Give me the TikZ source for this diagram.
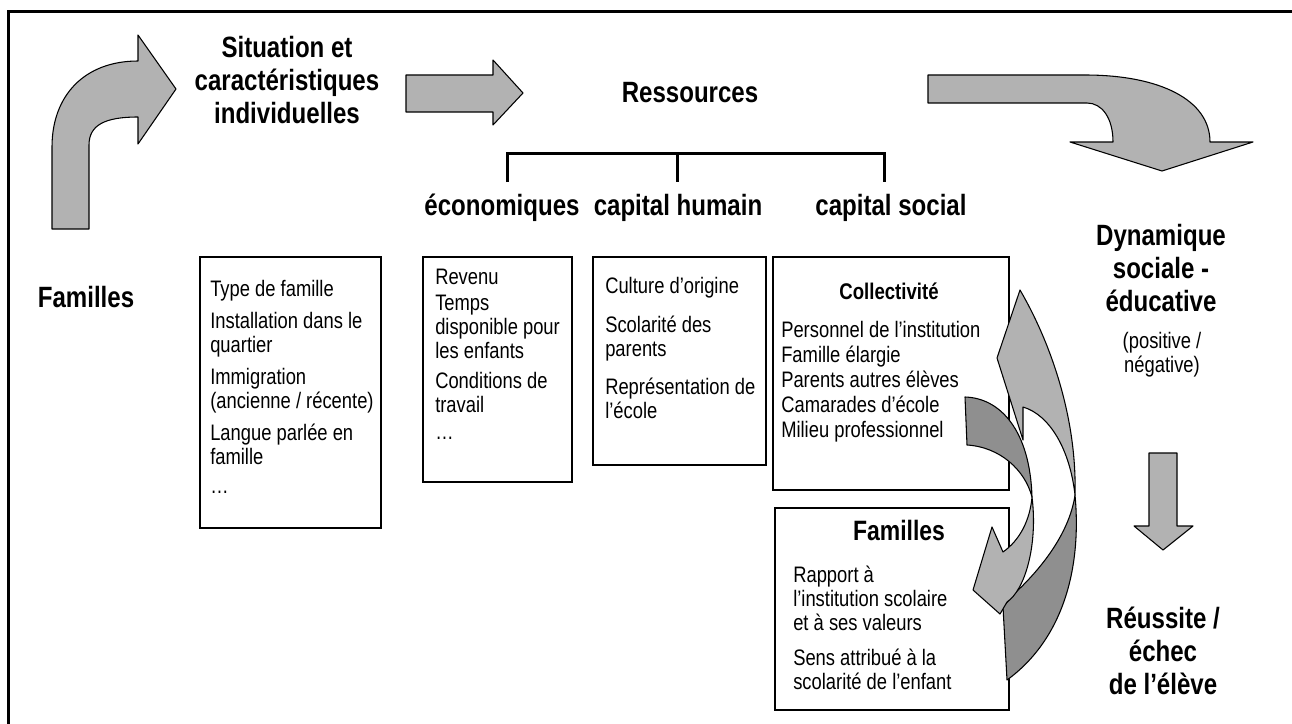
\documentclass[tikz,border=0pt]{standalone}
\usepackage{fontspec}
\setmainfont{Liberation Sans}[FakeStretch=0.82]
\usepackage{xcolor}
\usetikzlibrary{calc, shapes.geometric, arrows, positioning, fit}
\definecolor{arrowlight}{gray}{0.70}
\definecolor{arrowdark}{gray}{0.56}
\tikzset{
    box/.style={draw=black, line width=1pt, inner sep=0pt},
    items/.style={anchor=north west, inner sep=0pt, align=left, font=\fontsize{16.8}{18}\selectfont},
    heading/.style={inner sep=0pt, align=center, font=\fontsize{22}{24.75}\selectfont\bfseries},
    subhead/.style={inner sep=0pt, font=\fontsize{17}{20}\selectfont\bfseries},
    shade light/.style={fill=arrowlight, draw=black, line width=0.8pt, line join=round},
    shade dark/.style={fill=arrowdark, draw=black, line width=0.8pt, line join=round},
    bracket/.style={line width=2.25pt}
}

\begin{document}
\begin{tikzpicture}[x=0.75pt, y=-0.75pt]
        \useasboundingbox (0,0) rectangle (1292,724);
        \draw[line width=2.25pt] (8,724) -- (8,12) -- (1292,12);

        \node[heading] (fam) at (86,297) {Familles};
        \node[heading] (sit) at (287,80) {Situation et\\caractéristiques\\individuelles};
        \node[heading] (res) at (690,93) {Ressources};
        \node[heading] (eco) at (502,208) {économiques};
        \node[heading] (hum) at (678,208) {capital humain};
        \node[heading] (soc) at (891,208) {capital social};
        \node[heading] (dyn) at (1161,268) {Dynamique\\sociale -\\éducative};
        \node[items, anchor=center, align=center] (pos) at (1162,355) {(positive /\\négative)};
        \node[heading] (reu) at (1163,651) {Réussite /\\échec\\de l’élève};

        \draw[bracket] (507,182) -- (507,153) -- (884,153) -- (884,182);
        \draw[bracket] (677,153) -- (677,182);

        \node[box, fit={(200,257) (381,528)}] (b1) {};
        \node[box, fit={(423,257) (572,482)}] (b2) {};
        \node[box, fit={(593,257) (766,465)}] (b3) {};
        \node[box, fit={(773,257) (1009,490)}] (b4) {};
        \node[box, fit={(775,508) (1009,710)}] (b5) {};

        \node[items] (t1) at (210,280) {Type de famille\\[6pt]
            Installation dans le\\quartier\\[6pt]
            Immigration\\(ancienne / récente)\\[6pt]
            Langue parlée en\\famille\\[4pt]
            …};
        \node[items] (t2) at (435,269) {Revenu\\[1.5pt]
            Temps\\disponible pour\\les enfants\\[4.5pt]
            Conditions de\\travail\\[2pt]
            …};
        \node[items] (t3) at (605,277) {Culture d’origine\\[11pt]
            Scolarité des\\parents\\[11pt]
            Représentation de\\l’école};
        \node[subhead] (col) at (889,291) {Collectivité};
        \node[items] (t4) at (781,321) {Personnel de l’institution\\[0.75pt]
            Famille élargie\\[0.75pt]
            Parents autres élèves\\[0.75pt]
            Camarades d’école\\[0.75pt]
            Milieu professionnel};
        \node[subhead, font=\fontsize{21}{24}\selectfont\bfseries] (fa2) at (899,530) {Familles};
        \node[items] (t5) at (793,566) {Rapport à\\l’institution scolaire\\et à ses valeurs\\[8pt]
            Sens attribué à la\\scolarité de l’enfant};

        \filldraw[shade light] (52,229) -- (52,147) .. controls (52,95) and (85,61) .. (138,61)
            -- (138,35) -- (176,89) -- (138,144) -- (138,117)
            .. controls (105,117) and (89,125) .. (89,145) -- (89,229) -- cycle;
        \filldraw[shade light] (406,75) -- (493,75) -- (493,60) -- (523,93) -- (493,125)
            -- (493,112) -- (406,112) -- cycle;
        \filldraw[shade light] (928,75) -- (1085,75) .. controls (1160,75) and (1210,100) .. (1210,142)
            -- (1253,142) -- (1162,171) -- (1070,142) -- (1113,142)
            .. controls (1113,118) and (1102,103) .. (1087,103) -- (928,103) -- cycle;
        \filldraw[shade light] (1149,453) -- (1177,453) -- (1177,526) -- (1193,526) -- (1163,550)
            -- (1134,526) -- (1149,526) -- cycle;

        \filldraw[shade dark] (1075,495) .. controls (1082,570) and (1062,640) .. (1007,680)
            -- (1003,607) -- (1015,593) .. controls (1045,565) and (1070,530) .. (1075,495) -- cycle;
        \filldraw[shade light] (1020,290) .. controls (1052,345) and (1077,420) .. (1075,495)
            .. controls (1070,450) and (1050,415) .. (1023,407) -- (1023,440) -- (997,358) -- cycle;
        \filldraw[shade dark] (965,397) .. controls (1000,398) and (1030,430) .. (1032,497)
            .. controls (1025,470) and (1000,447) .. (967,445) -- cycle;
        \filldraw[shade light] (1032,497) .. controls (1038,545) and (1025,590) .. (1007,602)
            -- (1000,614) -- (973,590) -- (992,527) -- (1003,552)
            .. controls (1020,540) and (1030,520) .. (1032,497) -- cycle;
\end{tikzpicture}
\end{document}
